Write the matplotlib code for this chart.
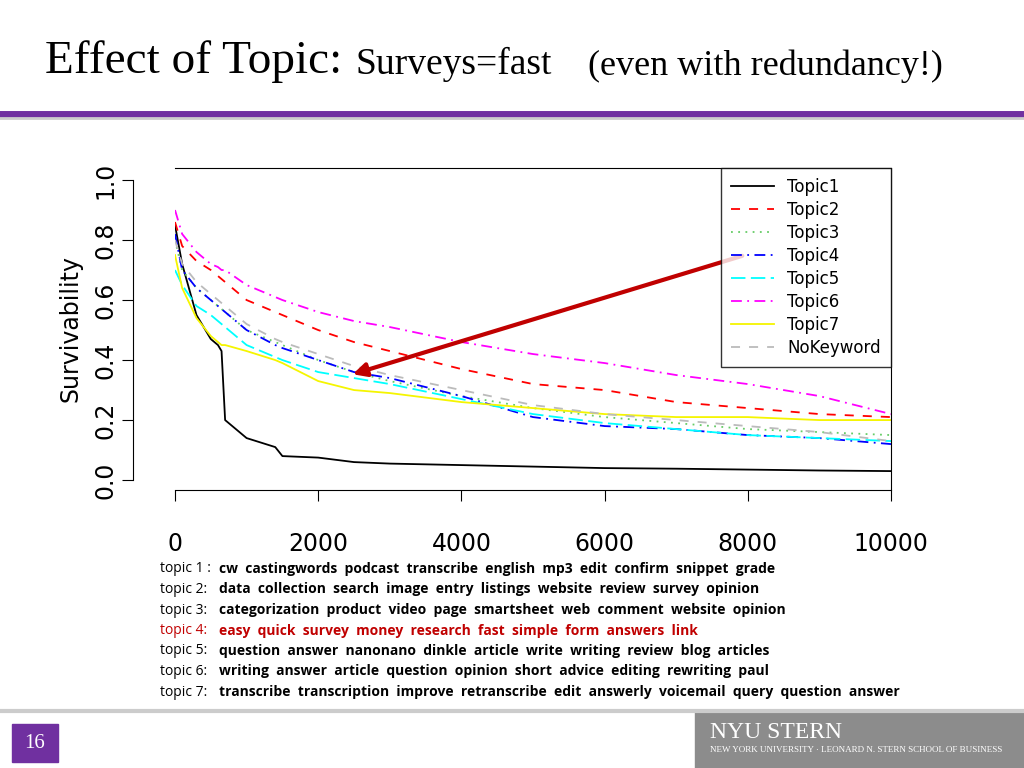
import matplotlib.pyplot as plt
from matplotlib.patches import Rectangle

x = [0, 100, 300, 500, 600, 650, 700, 1000, 1400, 1500, 2000, 2500, 3000, 4000, 5000, 6000, 7000, 8000, 9000, 10000]
topic1 = [0.85, 0.72, 0.55, 0.47, 0.45, 0.43, 0.20, 0.14, 0.11, 0.08, 0.075, 0.06, 0.055, 0.05, 0.045, 0.04, 0.038, 0.035, 0.032, 0.03]
topic2 = [0.86, 0.78, 0.73, 0.70, 0.68, 0.67, 0.66, 0.60, 0.56, 0.55, 0.50, 0.46, 0.43, 0.37, 0.32, 0.30, 0.26, 0.24, 0.22, 0.21]
topic3 = [0.80, 0.70, 0.64, 0.60, 0.58, 0.57, 0.56, 0.50, 0.46, 0.45, 0.40, 0.36, 0.33, 0.28, 0.24, 0.21, 0.19, 0.17, 0.16, 0.15]
topic4 = [0.82, 0.70, 0.64, 0.60, 0.58, 0.57, 0.56, 0.50, 0.45, 0.44, 0.40, 0.36, 0.34, 0.28, 0.21, 0.18, 0.17, 0.15, 0.14, 0.12]
topic5 = [0.70, 0.65, 0.58, 0.55, 0.53, 0.52, 0.51, 0.45, 0.41, 0.40, 0.36, 0.34, 0.32, 0.27, 0.22, 0.19, 0.17, 0.15, 0.14, 0.13]
topic6 = [0.90, 0.82, 0.76, 0.72, 0.71, 0.70, 0.70, 0.65, 0.61, 0.60, 0.56, 0.53, 0.51, 0.46, 0.42, 0.39, 0.35, 0.32, 0.28, 0.22]
topic7 = [0.75, 0.64, 0.54, 0.48, 0.46, 0.45, 0.45, 0.43, 0.40, 0.39, 0.33, 0.30, 0.29, 0.26, 0.24, 0.22, 0.21, 0.21, 0.20, 0.20]
nokey = [0.80, 0.72, 0.66, 0.62, 0.60, 0.59, 0.58, 0.52, 0.47, 0.46, 0.42, 0.38, 0.35, 0.30, 0.25, 0.22, 0.20, 0.18, 0.16, 0.13]

series = [("Topic1", topic1, "black", "-"), ("Topic2", topic2, "red", (0, (5, 5))),
          ("Topic3", topic3, "#66cc66", (0, (1, 3))), ("Topic4", topic4, "blue", (0, (6, 3, 1, 3))),
          ("Topic5", topic5, "cyan", (0, (8, 3))), ("Topic6", topic6, "magenta", (0, (6, 3, 1, 3))),
          ("Topic7", topic7, "#f5f500", "-"), ("NoKeyword", nokey, "#bbbbbb", (0, (5, 5)))]

topics = [("topic 1 : ", "cw  castingwords  podcast  transcribe  english  mp3  edit  confirm  snippet  grade"),
          ("topic 2:  ", "data  collection  search  image  entry  listings  website  review  survey  opinion"),
          ("topic 3:  ", "categorization  product  video  page  smartsheet  web  comment  website  opinion"),
          ("topic 4:  ", "easy  quick  survey  money  research  fast  simple  form  answers  link"),
          ("topic 5:  ", "question  answer  nanonano  dinkle  article  write  writing  review  blog  articles"),
          ("topic 6:  ", "writing  answer  article  question  opinion  short  advice  editing  rewriting  paul"),
          ("topic 7:  ", "transcribe  transcription  improve  retranscribe  edit  answerly  voicemail  query  question  answer")]

fig = plt.figure(figsize=(10.24, 7.68), dpi=100)
W, H = 1024, 768

fig.text(45 / W, 1 - 62 / H, "Effect of Topic:", fontsize=34, family="Liberation Serif", va="center")
fig.text(355 / W, 1 - 64 / H, "Surveys=fast", fontsize=27, family="Liberation Serif", va="center")
fig.text(588 / W, 1 - 66 / H, "(even with redundancy!)", fontsize=26, family="Liberation Serif", va="center")
fig.add_artist(plt.Line2D([0, 1], [1 - 114 / H] * 2, color="#7030a0", lw=5))
fig.add_artist(plt.Line2D([0, 1], [1 - 118 / H] * 2, color="#cccccc", lw=2))

ax = fig.add_axes([175 / W, 1 - 490 / H, (891 - 175) / W, (490 - 168) / H])
for name, y, c, ls in series:
    ax.plot(x, y, color=c, ls=ls, lw=1.3, label=name)
ax.set_xlim(0, 10000)
ax.set_ylim(-0.033, 1.04)
ax.spines["left"].set_position(("outward", 30))
ax.spines["left"].set_bounds(0, 1)
ax.set_yticks([0, 0.2, 0.4, 0.6, 0.8, 1.0])
ax.set_yticklabels(["0.0", "0.2", "0.4", "0.6", "0.8", "1.0"], rotation=90, va="center", fontsize=17)
ax.set_xticks([0, 2000, 4000, 6000, 8000, 10000])
ax.tick_params(axis="x", labelsize=17, length=8, pad=22)
ax.tick_params(axis="y", length=8)
ax.set_ylabel("Survivability", fontsize=17, labelpad=8)
ax.legend(loc="upper right", fontsize=12, frameon=True, fancybox=False, edgecolor="black",
          handlelength=2.6, borderpad=0.6, labelspacing=0.3, borderaxespad=0, handletextpad=0.8)
ax.annotate("", xy=(2444, 0.35), xytext=(7960, 0.75),
            arrowprops=dict(arrowstyle="-|>", color="#c00000", lw=3, mutation_scale=20))

for i, (lab, words) in enumerate(topics):
    yy = 1 - (569 + i * 20.5) / H
    col = "#c00000" if i == 3 else "black"
    fig.text(160 / W, yy, lab, fontsize=10, family="Open Sans", color=col, va="center")
    fig.text(219 / W, yy, words, fontsize=10, family="Open Sans", weight="bold", color=col, va="center")

fig.add_artist(plt.Line2D([0, 1], [1 - 711 / H] * 2, color="#cccccc", lw=3))
fig.add_artist(Rectangle((12 / W, 1 - 762 / H), 46 / W, 38 / H, color="#7030a0"))
fig.text(35 / W, 1 - 744 / H, "16", color="white", fontsize=15, family="Liberation Serif", ha="center", va="center")
fig.add_artist(Rectangle((695 / W, 0), 329 / W, 56 / H, color="#8c8c8c"))
fig.text(710 / W, 1 - 733 / H, "NYU STERN", color="white", fontsize=17, family="Liberation Serif", va="center")
fig.text(710 / W, 1 - 750 / H, "NEW YORK UNIVERSITY · LEONARD N. STERN SCHOOL OF BUSINESS", color="white",
         fontsize=6.5, family="Liberation Serif", va="center")

fig.savefig("out.png", dpi=100)
